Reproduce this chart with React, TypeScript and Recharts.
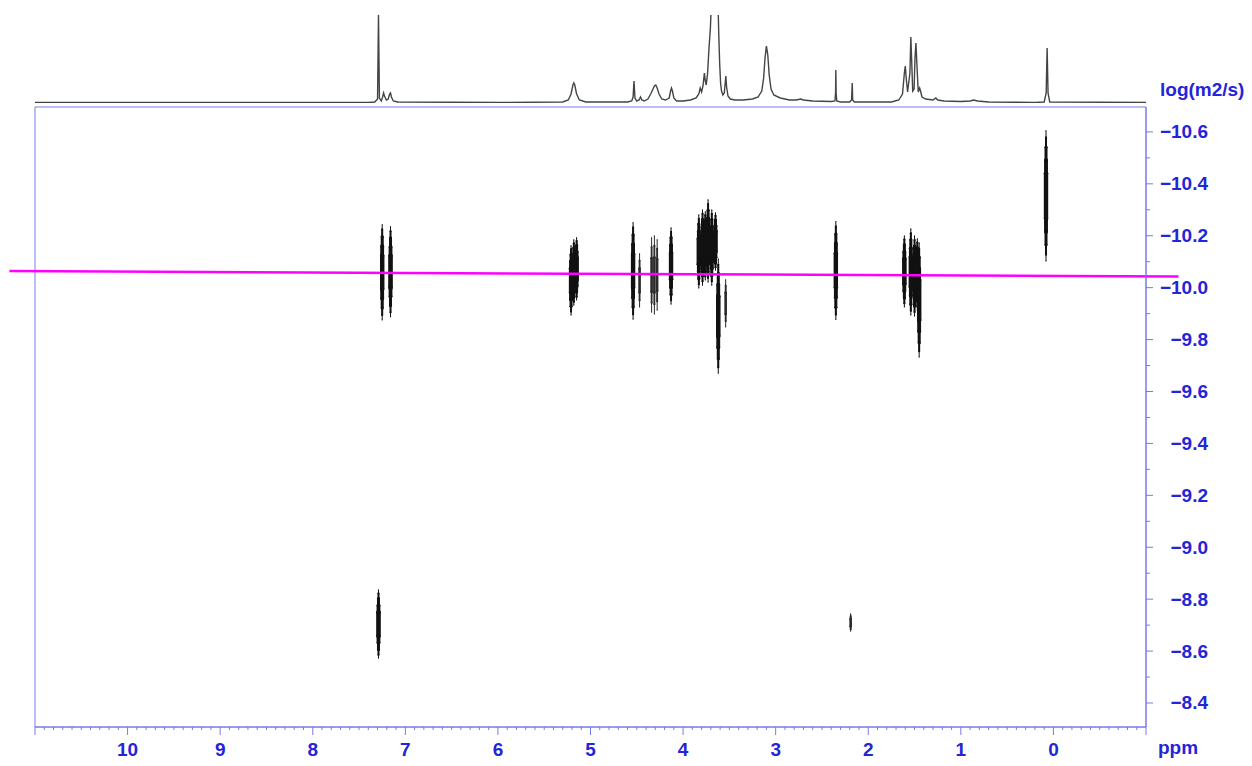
import React from 'react';
import {
  ComposedChart,
  LineChart,
  Line,
  Scatter,
  ErrorBar,
  XAxis,
  YAxis,
  ReferenceLine,
  ReferenceArea,
} from 'recharts';

// ---------- 1D proton spectrum trace (ppm, relative intensity) ----------
const SPEC_PPM = [
  11.0, 7.4, 7.33, 7.3, 7.29, 7.28, 7.26, 7.245, 7.235, 7.225, 7.205, 7.185, 7.17, 7.16, 7.15, 7.13, 7.08,
  6.0, 5.3, 5.24, 5.21, 5.19, 5.18, 5.17, 5.15, 5.12, 5.05,
  4.6, 4.555, 4.54, 4.53, 4.52, 4.5, 4.475, 4.46, 4.445, 4.42, 4.38, 4.35, 4.33, 4.31, 4.295, 4.28, 4.26,
  4.23, 4.19, 4.15, 4.135, 4.125, 4.115, 4.1, 4.07, 4.0,
  3.92, 3.86, 3.83, 3.815, 3.8, 3.785, 3.77, 3.76, 3.75, 3.735, 3.72, 3.705, 3.69, 3.66, 3.625, 3.615,
  3.605, 3.595, 3.585, 3.57, 3.555, 3.545, 3.538, 3.53, 3.515, 3.49, 3.44, 3.35,
  3.25, 3.19, 3.15, 3.13, 3.115, 3.1, 3.085, 3.07, 3.05, 3.02, 2.95, 2.85, 2.78, 2.73, 2.7, 2.6,
  2.4, 2.36, 2.353, 2.35, 2.347, 2.34, 2.3, 2.2, 2.18, 2.173, 2.168, 2.15,
  1.75, 1.67, 1.63, 1.61, 1.6, 1.59, 1.575, 1.55, 1.54, 1.53, 1.52, 1.505, 1.495, 1.485, 1.47, 1.46,
  1.445, 1.435, 1.42, 1.38, 1.3, 1.27, 1.25, 1.18, 1.0, 0.9, 0.86, 0.82, 0.7,
  0.2, 0.1, 0.078, 0.068, 0.058, 0.04, -1.0,
];
const SPEC_INT = [
  0.5, 0.5, 1, 4, 88, 5, 2, 6, 10, 7, 3, 4, 9, 10, 6, 2, 1,
  0.5, 1, 3, 9, 18, 20, 18, 9, 3, 1,
  1, 2, 6, 22, 5, 2, 3, 6, 3, 2, 4, 9, 13, 17, 18, 15, 9,
  4, 3, 5, 12, 15, 12, 5, 2, 2,
  3, 5, 9, 15, 11, 17, 30, 22, 18, 30, 55, 75, 110, 200, 110, 70,
  40, 20, 12, 8, 10, 20, 27, 16, 7, 4, 3, 3,
  4, 6, 12, 25, 45, 57, 48, 28, 14, 8, 5, 3, 3, 4, 3, 2,
  1.5, 2, 10, 33, 10, 2, 1, 1, 3, 20, 3, 1,
  1, 3, 9, 30, 37, 25, 11, 30, 66, 40, 12, 14, 45, 60, 30, 11,
  15, 12, 6, 4, 3, 5, 3, 2, 1.5, 2, 3, 2, 1,
  0.5, 1, 10, 55, 10, 1, 0.5,
];

// ---------- DOSY cross peaks: ppm, log(D) top, log(D) bottom ----------
const BLOB_PPM = [7.25, 7.16, 5.21, 5.18, 5.15, 4.54, 4.13, 3.83, 3.79, 3.76, 3.73, 3.69, 3.65, 3.62, 2.35, 1.61, 1.54, 1.5, 1.47, 1.45, 0.08, 7.29];
const BLOB_TOP = [-10.242, -10.235, -10.161, -10.184, -10.192, -10.25, -10.23, -10.28, -10.299, -10.292, -10.338, -10.299, -10.288, -10.11, -10.254, -10.199, -10.226, -10.199, -10.188, -10.172, -10.604, -8.835];
const BLOB_BOTTOM = [-9.876, -9.888, -9.895, -9.933, -9.953, -9.879, -9.937, -9.999, -10.01, -10.03, -10.022, -10.01, -10.068, -9.671, -9.878, -9.926, -9.895, -9.891, -9.914, -9.733, -10.103, -8.573];

const THIN_PPM = [4.47, 4.34, 4.31, 4.28, 3.54, 2.19];
const THIN_TOP = [-10.13, -10.192, -10.199, -10.184, -10.03, -8.743];
const THIN_BOTTOM = [-9.926, -9.906, -9.899, -9.914, -9.849, -8.677];

// cursor line (log D level)
const CURSOR = [
  { x: 11.276, y: -10.064 },
  { x: -1.351, y: -10.043 },
];

// axes
const X_DOMAIN = [-1, 11];
const Y_DOMAIN = [-10.696, -8.3075];
const X_LABELS = [10, 9, 8, 7, 6, 5, 4, 3, 2, 1, 0];
const Y_LABELS = [-10.6, -10.4, -10.2, -10.0, -9.8, -9.6, -9.4, -9.2, -9.0, -8.8, -8.6, -8.4];
const X_MINOR_STEP = 0.1;
const Y_MINOR_STEP = 0.1;

const AXIS_BLUE = '#7878ee';
const TEXT_BLUE = '#2424d8';
const FONT = '"Liberation Sans", Arial, Helvetica, sans-serif';

// blob contour layers: fraction of the vertical extent, stroke width
const MAIN_LAYERS = [
  { key: 'e100', frac: 1.0, w: 1.0 },
  { key: 'e90', frac: 0.9, w: 2.0 },
  { key: 'e75', frac: 0.75, w: 3.0 },
  { key: 'e55', frac: 0.55, w: 3.8 },
  { key: 'e35', frac: 0.35, w: 4.4 },
];
const THIN_LAYERS = [
  { key: 'e100', frac: 1.0, w: 1.0 },
  { key: 'e75', frac: 0.75, w: 1.8 },
  { key: 'e45', frac: 0.45, w: 2.4 },
];

const specData = SPEC_PPM.map((p, i) => ({ ppm: p, int: SPEC_INT[i] }));

function makeBlobs(ppm: number[], top: number[], bottom: number[]) {
  return ppm.map((p, i) => {
    const c = (top[i] + bottom[i]) / 2;
    const h = Math.abs(bottom[i] - top[i]) / 2;
    const row: any = { ppm: p, logD: c };
    [...MAIN_LAYERS, ...THIN_LAYERS].forEach((l) => {
      row[l.key] = h * l.frac;
    });
    return row;
  });
}
const blobs = makeBlobs(BLOB_PPM, BLOB_TOP, BLOB_BOTTOM);
const thinBlobs = makeBlobs(THIN_PPM, THIN_TOP, THIN_BOTTOM);

const xTicks: number[] = [];
for (let i = Math.round(X_DOMAIN[0] / X_MINOR_STEP); i <= Math.round(X_DOMAIN[1] / X_MINOR_STEP); i++) {
  xTicks.push(Math.round(i * X_MINOR_STEP * 10) / 10);
}
const yTicks: number[] = [];
for (let i = Math.ceil(Y_DOMAIN[0] / Y_MINOR_STEP - 1e-6); i <= Math.floor(Y_DOMAIN[1] / Y_MINOR_STEP + 1e-6); i++) {
  yTicks.push(Math.round(i * Y_MINOR_STEP * 10) / 10);
}

const fmtNeg = (v: number) => (v < 0 ? '\u2212' + Math.abs(v).toFixed(1) : v.toFixed(1));

const XTick = (props: any) => {
  const { x, y, payload } = props;
  const v = payload.value as number;
  const major = Math.abs(v - Math.round(v)) < 1e-6;
  const label = X_LABELS.find((l) => Math.abs(l - v) < 1e-6);
  return (
    <g>
      <line x1={x} x2={x} y1={y} y2={y + (major ? 8 : 3)} stroke={AXIS_BLUE} strokeWidth={1} />
      {label !== undefined && (
        <text
          x={x}
          y={y + 22}
          textAnchor="middle"
          dominantBaseline="central"
          fill={TEXT_BLUE}
          fontFamily={FONT}
          fontWeight="bold"
          fontSize={19}
        >
          {String(label)}
        </text>
      )}
    </g>
  );
};

const YTick = (props: any) => {
  const { x, y, payload } = props;
  const v = payload.value as number;
  const label = Y_LABELS.find((l) => Math.abs(l - v) < 1e-6);
  const major = label !== undefined;
  return (
    <g>
      <line x1={x} x2={x + (major ? 7 : 4)} y1={y} y2={y} stroke={AXIS_BLUE} strokeWidth={1} />
      {major && (
        <text
          x={x + 62}
          y={y}
          textAnchor="end"
          dominantBaseline="central"
          fill={TEXT_BLUE}
          fontFamily={FONT}
          fontWeight="bold"
          fontSize={19}
        >
          {fmtNeg(label as number)}
        </text>
      )}
    </g>
  );
};

const noShape = () => <g />;

export default function App() {
  return (
    <div style={{ position: 'absolute', left: 0, top: 0, width: 1252, height: 766, background: '#fff', overflow: 'hidden' }}>
      {/* top 1D spectrum */}
      <div style={{ position: 'absolute', left: 0, top: 0 }}>
        <LineChart width={1252} height={110} data={specData} margin={{ top: 15, right: 106, left: 35, bottom: 7 }}>
          <XAxis dataKey="ppm" type="number" domain={X_DOMAIN} reversed hide allowDataOverflow />
          <YAxis type="number" domain={[0, 88]} hide allowDataOverflow />
          <Line
            dataKey="int"
            type="linear"
            stroke="#444"
            strokeWidth={1.4}
            dot={false}
            isAnimationActive={false}
          />
        </LineChart>
      </div>

      {/* DOSY 2D map */}
      <div style={{ position: 'absolute', left: 0, top: 0 }}>
        <ComposedChart width={1252} height={766} margin={{ top: 107, right: 0, left: 35, bottom: 0 }}>
          <XAxis
            dataKey="ppm"
            type="number"
            domain={X_DOMAIN}
            reversed
            allowDataOverflow
            ticks={xTicks}
            interval={0}
            tickSize={0}
            tickMargin={0}
            tickLine={false}
            axisLine={{ stroke: AXIS_BLUE }}
            tick={<XTick />}
            height={39}
          />
          <YAxis
            dataKey="logD"
            type="number"
            orientation="right"
            domain={Y_DOMAIN}
            reversed
            allowDataOverflow
            ticks={yTicks}
            interval={0}
            tickSize={0}
            tickMargin={0}
            tickLine={false}
            axisLine={{ stroke: AXIS_BLUE }}
            tick={<YTick />}
            width={106}
          />
          <ReferenceArea
            x1={X_DOMAIN[1]}
            x2={X_DOMAIN[0]}
            y1={Y_DOMAIN[0]}
            y2={Y_DOMAIN[1]}
            fill="none"
            fillOpacity={0}
            stroke={AXIS_BLUE}
            strokeWidth={1}
          />
          <Scatter data={blobs} dataKey="logD" shape={noShape} isAnimationActive={false}>
            {MAIN_LAYERS.map((l) => (
              <ErrorBar
                key={l.key}
                dataKey={l.key}
                direction="y"
                width={0.01}
                stroke="#111"
                strokeWidth={l.w}
                strokeLinecap="round"
                isAnimationActive={false}
              />
            ))}
          </Scatter>
          <Scatter data={thinBlobs} dataKey="logD" shape={noShape} isAnimationActive={false}>
            {THIN_LAYERS.map((l) => (
              <ErrorBar
                key={l.key}
                dataKey={l.key}
                direction="y"
                width={0.01}
                stroke="#2a2a2a"
                strokeWidth={l.w}
                strokeLinecap="round"
                isAnimationActive={false}
              />
            ))}
          </Scatter>
          <ReferenceLine segment={CURSOR} stroke="#ff00ff" strokeWidth={2.5} ifOverflow="visible" />
        </ComposedChart>
      </div>

      <div
        style={{
          position: 'absolute',
          left: 1160,
          top: 80,
          lineHeight: '20px',
          fontFamily: FONT,
          fontWeight: 'bold',
          fontSize: 19,
          color: TEXT_BLUE,
          whiteSpace: 'nowrap',
        }}
      >
        log(m2/s)
      </div>
      <div
        style={{
          position: 'absolute',
          left: 1158,
          top: 738,
          lineHeight: '20px',
          fontFamily: FONT,
          fontWeight: 'bold',
          fontSize: 19,
          color: TEXT_BLUE,
          whiteSpace: 'nowrap',
        }}
      >
        ppm
      </div>
    </div>
  );
}
